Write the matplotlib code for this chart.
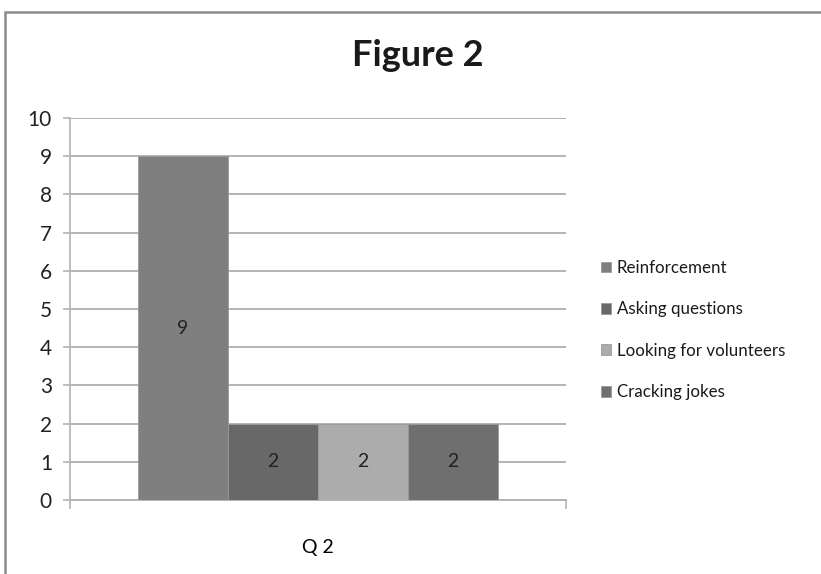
import matplotlib.pyplot as plt
from matplotlib.patches import Rectangle

plt.rcParams['font.family'] = ['Lato', 'DejaVu Sans']

# Q2 responses per strategy
categories = ["Q 2"]
series = ["Reinforcement", "Asking questions", "Looking for volunteers", "Cracking jokes"]
values = [9, 2, 2, 2]
colors = ["#7f7f7f", "#686868", "#acacac", "#6f6f6f"]

fig = plt.figure(figsize=(8.21, 5.74), dpi=100)
fig.patch.set_facecolor("white")

# outer chart frame (right/bottom edges run off the canvas)
fig.patches.append(Rectangle((5 / 821, -0.1), 1.2, 1 - 12 / 574 + 0.1,
                             transform=fig.transFigure, fill=False,
                             edgecolor="#8a8a8a", linewidth=1.8))

ax = fig.add_axes([70 / 821, 1 - 500 / 574, 496 / 821, 382 / 574])

bar_w = 0.1815
n = len(series)
bars = []
for i, (name, val, col) in enumerate(zip(series, values, colors)):
    x = (i - (n - 1) / 2) * bar_w
    b = ax.bar(x, val, width=bar_w, color=col, edgecolor="#9a9a9a",
               linewidth=0.6, label=name, zorder=3)
    bars.append(b)
    ax.text(x, val / 2, f"{val}", ha="center", va="center",
            fontsize=14, color="#222222", zorder=4)

ax.set_xlim(-0.5, 0.5)
ax.set_ylim(0, 10)
ax.set_yticks(range(0, 11))
ax.yaxis.grid(True, color="#b3b3b3", linewidth=1.4, zorder=0)
ax.set_axisbelow(True)

ax.set_xticks([0])
ax.set_xticklabels(categories)
ax.tick_params(axis="x", length=0, pad=28, labelsize=14)
ax.tick_params(axis="y", length=5, color="#b3b3b3", width=1.2,
               labelsize=15, pad=8, labelcolor="#222222")

for side in ["top", "right"]:
    ax.spines[side].set_visible(False)
ax.spines["left"].set_color("#b3b3b3")
ax.spines["bottom"].set_color("#b3b3b3")
ax.spines["left"].set_linewidth(1.2)
ax.spines["bottom"].set_linewidth(1.4)

# small end ticks on the category axis
for xe in (-0.5, 0.5):
    ax.plot([xe, xe], [0, -0.22], color="#b3b3b3", linewidth=1.2,
            clip_on=False, zorder=2)

fig.text(418 / 821, 1 - 55 / 574, "Figure 2", ha="center", va="center",
         fontsize=26, fontweight="bold", color="#1a1a1a")

fig.legend(handles=[b for b in bars], labels=series,
           loc="center left", bbox_to_anchor=(586 / 821, 1 - 330 / 574),
           frameon=False, fontsize=12.2, handlelength=0.6, handleheight=0.6,
           handletextpad=0.3, labelspacing=1.5, labelcolor="#1a1a1a")

fig.savefig("out.png", dpi=100)
